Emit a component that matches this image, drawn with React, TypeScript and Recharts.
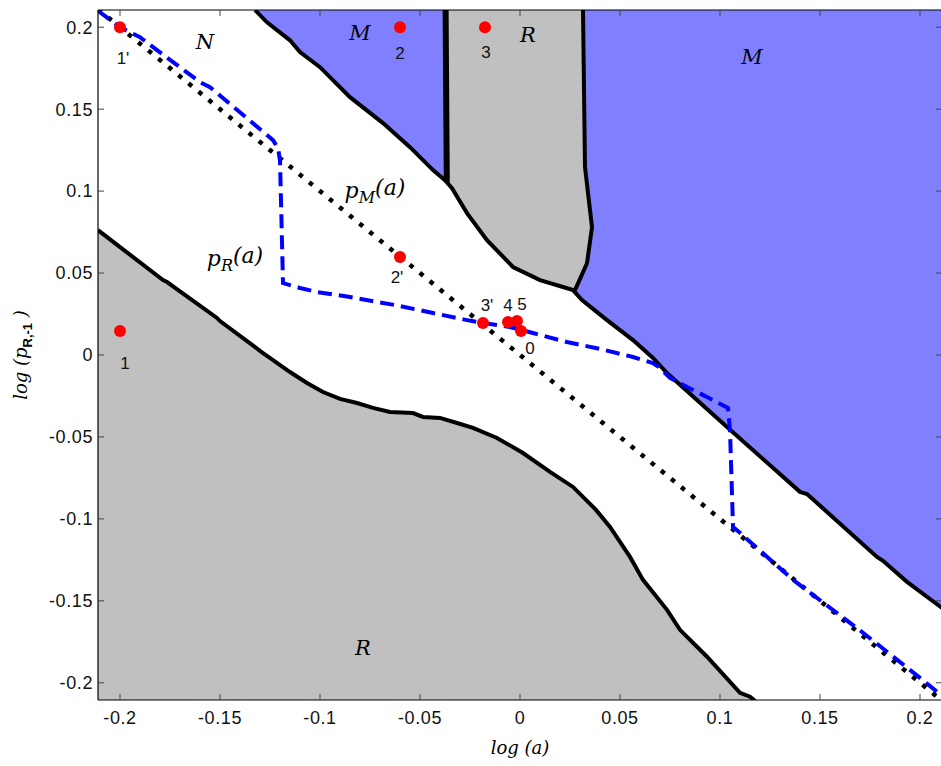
import React from "react"
import { Area, ComposedChart, Label, Line, Scatter, XAxis, YAxis } from "recharts"

type Pair = [number, number]
type Pt = { x: number; y: number }

// Axis ticks (both axes share the same set)
const xTicks = [-0.2, -0.15, -0.1, -0.05, 0, 0.05, 0.1, 0.15, 0.2]
const yTicks = [-0.2, -0.15, -0.1, -0.05, 0, 0.05, 0.1, 0.15, 0.2]

// Upper black boundary: N|M on the left, bottom of the middle R strip, N|M on the right.
const upperBoundary: Pair[] = [
  [-0.1325, 0.2105], [-0.1265, 0.203], [-0.115, 0.192], [-0.11, 0.1848], [-0.1, 0.1756],
  [-0.085, 0.1573], [-0.0685, 0.1415], [-0.055, 0.1268], [-0.0435, 0.1128], [-0.0375, 0.1067],
  [-0.034, 0.1018], [-0.0265, 0.0866], [-0.0165, 0.0701], [-0.0035, 0.0537], [0.01, 0.0457],
  [0.0215, 0.0415], [0.0265, 0.0396], [0.031, 0.0335], [0.0435, 0.0213], [0.0565, 0.0091],
  [0.0665, -0.0018], [0.0735, -0.011], [0.1035, -0.0439], [0.14, -0.0835], [0.1435, -0.0848],
  [0.1785, -0.1232], [0.1815, -0.1256], [0.1935, -0.1384], [0.211, -0.1543],
]

// Middle R strip (top), as x with a low/high band
const middleRX = [-0.0372, -0.034, -0.0265, -0.0165, -0.0035, 0.01, 0.0215, 0.0265, 0.0315, 0.0325, 0.0335, 0.036]
const middleRLow = [0.1067, 0.1018, 0.0866, 0.0701, 0.0537, 0.0457, 0.0415, 0.0396, 0.0505, 0.0533, 0.056, 0.078]
const middleRHigh = [0.2105, 0.2105, 0.2105, 0.2105, 0.2105, 0.2105, 0.2105, 0.2105, 0.2105, 0.1146, 0.1041, 0.078]
const middleRLeftEdge: Pair[] = [[-0.0372, 0.2105], [-0.0366, 0.1055]]
const middleRRightEdge: Pair[] = [[0.0315, 0.2105], [0.0325, 0.1146], [0.036, 0.078], [0.0335, 0.056], [0.0275, 0.0396]]

// Lower black boundary (bottom-left R region)
const lowerBoundary: Pair[] = [
  [-0.211, 0.0762], [-0.1785, 0.0457], [-0.1765, 0.0445], [-0.1515, 0.0226], [-0.15, 0.0207],
  [-0.1285, 0.0012], [-0.1265, -0.0006], [-0.115, -0.0104], [-0.1065, -0.0171], [-0.0985, -0.0226],
  [-0.09, -0.0268], [-0.0815, -0.0293], [-0.0735, -0.0323], [-0.065, -0.0348], [-0.0535, -0.0354],
  [-0.0485, -0.0378], [-0.04, -0.0384], [-0.0315, -0.0415], [-0.0235, -0.0445], [-0.0115, -0.0506],
  [0.0015, -0.0598], [0.015, -0.0713], [0.0265, -0.0805], [0.038, -0.0945], [0.045, -0.1049],
  [0.055, -0.1232], [0.0615, -0.1372], [0.0735, -0.1555], [0.08, -0.1677], [0.0935, -0.1841],
  [0.11, -0.2061], [0.115, -0.2085], [0.1175, -0.211],
]

// p_M(a): the 45° diagonal
const pM: Pair[] = [[-0.211, 0.211], [0.211, -0.211]]

// p_R(a): blue dashed curve
const pR: Pair[] = [
  [-0.211, 0.21], [-0.2, 0.2], [-0.19, 0.1939], [-0.1815, 0.186], [-0.16, 0.1665], [-0.155, 0.1634],
  [-0.1235, 0.1311], [-0.121, 0.1262], [-0.12, 0.1189], [-0.1185, 0.0439], [-0.11, 0.0409],
  [-0.1015, 0.0384], [-0.085, 0.0354], [-0.06, 0.0299], [-0.0435, 0.0256], [-0.0265, 0.0213],
  [-0.0185, 0.0195], [-0.005, 0.0171], [0.0065, 0.0134], [0.0235, 0.0079], [0.04, 0.0037],
  [0.0565, -0.0012], [0.0665, -0.0049], [0.07, -0.0079], [0.075, -0.014], [0.0835, -0.0195],
  [0.0935, -0.0256], [0.104, -0.0323], [0.105, -0.0457], [0.1065, -0.1049], [0.11, -0.1085],
  [0.1365, -0.1372], [0.17, -0.168], [0.2, -0.197], [0.211, -0.208],
]

// Red points
const pointNames = ["1", "1'", "2", "3", "2'", "3'", "4", "5", "0"]
const pointX = [-0.2, -0.2, -0.06, -0.0175, -0.06, -0.0185, -0.006, -0.0015, 0.0005]
const pointY = [0.0146, 0.2, 0.2, 0.2, 0.0598, 0.0195, 0.0201, 0.0207, 0.0146]

// Region letters
const regionText = ["N", "M", "R", "M", "R"]
const regionX = [-0.1575, -0.08, 0.004, 0.116, -0.0785]
const regionY = [0.1909, 0.1963, 0.195, 0.1817, -0.1787]

// Curve names
const curveSub = ["M", "R"]
const curveX = [-0.0725, -0.1425]
const curveY = [0.1006, 0.0591]

// label offsets (px) for the point numbers
const pointLabelOffset: Record<string, [number, number]> = {
  "1": [5, 32],
  "1'": [3, 31],
  "2": [0, 26],
  "3": [1, 25],
  "2'": [-3, 21],
  "3'": [4, -18],
  "4": [0, -17],
  "5": [5, -17],
  "0": [9, 17],
}

const toPts = (pairs: Pair[]): Pt[] => pairs.map(([x, y]) => ({ x, y }))

const upperData = toPts(upperBoundary)
const lowerData = toPts(lowerBoundary)
const middleRData = middleRX.map((x, i) => ({ x, band: [middleRLow[i], middleRHigh[i]] }))
const pointData = pointNames.map((name, i) => ({ x: pointX[i], y: pointY[i], name }))
const regionData = regionText.map((text, i) => ({ x: regionX[i], y: regionY[i], text }))
const curveData = curveSub.map((sub, i) => ({ x: curveX[i], y: curveY[i], sub }))

const SANS = "'Liberation Sans', Arial, Helvetica, sans-serif"
const SERIF = "'DejaVu Serif', 'Liberation Serif', serif"
const BLUE_REGION = "#8080ff"
const GRAY_REGION = "#c0c0c0"

const tickStyle = { fontSize: 18, fill: "#111", fontFamily: SANS, letterSpacing: 0.6 }

function RedPoint(props: any) {
  const { cx, cy, payload } = props
  const [dx, dy] = pointLabelOffset[payload.name] ?? [0, 25]
  return (
    <g>
      <circle cx={cx} cy={cy} r={6} fill="#ff0000" />
      <text
        x={cx + dx}
        y={cy + dy}
        textAnchor="middle"
        dominantBaseline="central"
        fontSize={17}
        fontFamily={SANS}
        fill="#111"
      >
        {payload.name}
      </text>
    </g>
  )
}

function RegionLetter(props: any) {
  const { cx, cy, payload } = props
  return (
    <text
      x={cx}
      y={cy}
      textAnchor="middle"
      dominantBaseline="central"
      fontSize={21}
      fontStyle="italic"
      fontFamily={SERIF}
      fill="#000"
    >
      {payload.text}
    </text>
  )
}

function CurveName(props: any) {
  const { cx, cy, payload } = props
  return (
    <text
      x={cx}
      y={cy}
      textAnchor="middle"
      dominantBaseline="central"
      fontSize={22}
      fontStyle="italic"
      fontFamily={SERIF}
      fill="#000"
    >
      <tspan>p</tspan>
      <tspan dy={7} fontSize={16}>
        {payload.sub}
      </tspan>
      <tspan dy={-10}>(a)</tspan>
    </text>
  )
}

function XTitle(props: any) {
  const { x, y, width } = props.viewBox
  return (
    <text
      x={x + width / 2}
      y={y + 54}
      textAnchor="middle"
      fontSize={18}
      fontStyle="italic"
      fontFamily={SERIF}
      fill="#000"
    >
      log (a)
    </text>
  )
}

function YTitle(props: any) {
  const { y, height } = props.viewBox
  const cx = 27
  const cy = y + height / 2
  return (
    <text
      x={cx}
      y={cy}
      transform={`rotate(-90, ${cx}, ${cy})`}
      textAnchor="middle"
      fontSize={18}
      fontStyle="italic"
      fontFamily={SERIF}
      fill="#000"
    >
      <tspan>log (p</tspan>
      <tspan dy={5} fontSize={13} fontStyle="normal" fontWeight="bold" fontFamily={SANS}>
        R,-1
      </tspan>
      <tspan dy={-5}> )</tspan>
    </text>
  )
}

const blank = () => ""

export default function App() {
  const lineCommon = {
    xAxisId: "b",
    yAxisId: "l",
    dataKey: "y",
    dot: false,
    activeDot: false,
    isAnimationActive: false,
    type: "linear" as const,
  }

  return (
    <div
      style={{
        position: "absolute",
        left: 0,
        top: 0,
        width: 941,
        height: 766,
        overflow: "hidden",
        background: "#fff",
      }}
    >
      <ComposedChart width={943} height={766} margin={{ top: 0, right: 0, bottom: 0, left: 0 }}>
        <XAxis
          xAxisId="b"
          dataKey="x"
          type="number"
          orientation="bottom"
          domain={[-0.211, 0.211]}
          allowDataOverflow
          ticks={xTicks}
          height={66}
          tickSize={-6}
          tickMargin={17}
          tick={tickStyle}
          axisLine={{ stroke: "#000", strokeWidth: 1.2 }}
          tickLine={{ stroke: "#444" }}
          interval={0}
        >
          <Label content={XTitle} />
        </XAxis>
        <XAxis
          xAxisId="t"
          dataKey="x"
          type="number"
          orientation="top"
          domain={[-0.211, 0.211]}
          allowDataOverflow
          ticks={xTicks}
          height={10}
          tickSize={-6}
          tickFormatter={blank}
          axisLine={{ stroke: "#000", strokeWidth: 1.2 }}
          tickLine={{ stroke: "#444" }}
          interval={0}
        />
        <YAxis
          yAxisId="l"
          dataKey="y"
          type="number"
          orientation="left"
          domain={[-0.2105, 0.2105]}
          allowDataOverflow
          ticks={yTicks}
          width={98}
          tickSize={-6}
          tickMargin={11}
          tick={tickStyle}
          axisLine={{ stroke: "#000", strokeWidth: 1.2 }}
          tickLine={{ stroke: "#444" }}
          interval={0}
        >
          <Label content={YTitle} />
        </YAxis>
        <YAxis
          yAxisId="r"
          type="number"
          orientation="right"
          domain={[-0.2105, 0.2105]}
          allowDataOverflow
          ticks={yTicks}
          width={1}
          tickSize={-6}
          tickFormatter={blank}
          axisLine={false}
          tickLine={{ stroke: "#444" }}
          interval={0}
        />

        {/* filled regions */}
        <Area
          xAxisId="b"
          yAxisId="l"
          data={upperData}
          dataKey="y"
          type="linear"
          baseValue="dataMax"
          fill={BLUE_REGION}
          fillOpacity={1}
          stroke="none"
          isAnimationActive={false}
          activeDot={false}
        />
        <Area
          xAxisId="b"
          yAxisId="l"
          data={middleRData}
          dataKey="band"
          type="linear"
          fill={GRAY_REGION}
          fillOpacity={1}
          stroke="none"
          isAnimationActive={false}
          activeDot={false}
        />
        <Area
          xAxisId="b"
          yAxisId="l"
          data={lowerData}
          dataKey="y"
          type="linear"
          baseValue="dataMin"
          fill={GRAY_REGION}
          fillOpacity={1}
          stroke="none"
          isAnimationActive={false}
          activeDot={false}
        />

        {/* region boundaries */}
        <Line {...lineCommon} data={upperData} stroke="#000" strokeWidth={4} />
        <Line {...lineCommon} data={toPts(middleRLeftEdge)} stroke="#000" strokeWidth={6} />
        <Line {...lineCommon} data={toPts(middleRRightEdge)} stroke="#000" strokeWidth={4} />
        <Line {...lineCommon} data={lowerData} stroke="#000" strokeWidth={4} />

        {/* best responses */}
        <Line {...lineCommon} data={toPts(pM)} stroke="#000" strokeWidth={4.5} strokeDasharray="4.5 8.5" />
        <Line {...lineCommon} data={toPts(pR)} stroke="#0000ff" strokeWidth={4} strokeDasharray="14 7" />

        <Scatter xAxisId="b" yAxisId="l" data={regionData} shape={RegionLetter} isAnimationActive={false} />
        <Scatter xAxisId="b" yAxisId="l" data={curveData} shape={CurveName} isAnimationActive={false} />
        <Scatter xAxisId="b" yAxisId="l" data={pointData} shape={RedPoint} isAnimationActive={false} />
      </ComposedChart>
    </div>
  )
}
